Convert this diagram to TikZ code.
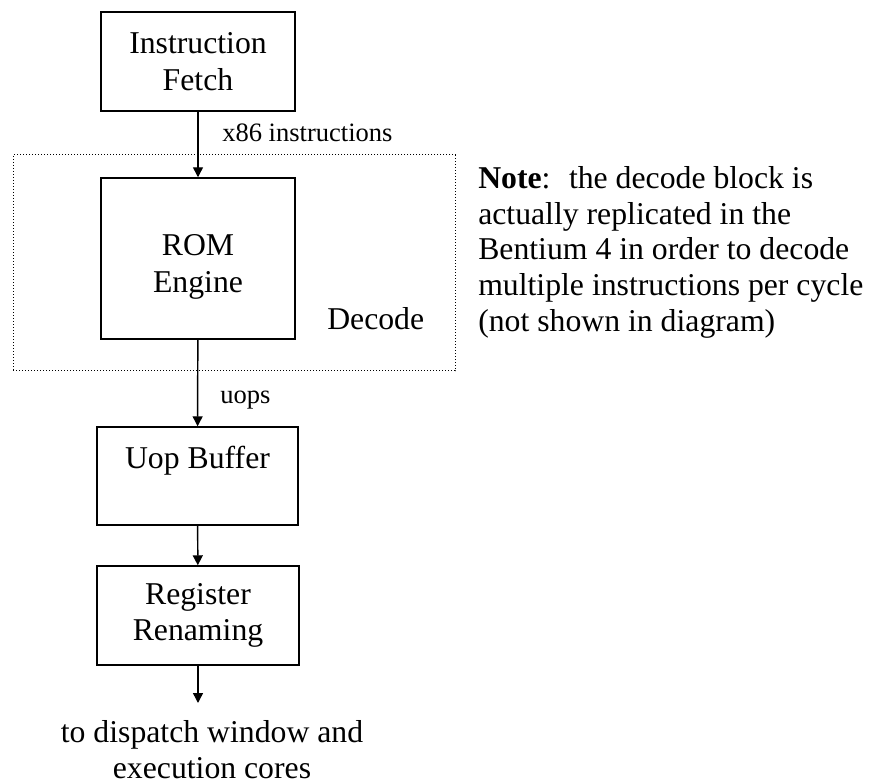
\documentclass[tikz,border=0pt]{standalone}
\usepackage{fontspec}
\setmainfont{Liberation Serif}
\usetikzlibrary{arrows.meta}
\begin{document}
\begin{tikzpicture}[x=0.75pt,y=-0.75pt,
    stage/.style={draw,line width=1.1pt,inner sep=0pt,align=center,
      font=\fontsize{23.8}{27.4}\selectfont},
    group/.style={draw,line width=0.75pt,dash pattern=on 0.75pt off 1.5pt,inner sep=0pt},
    lbl/.style={inner sep=0pt,anchor=base west,font=\fontsize{19.9}{23}\selectfont},
    txt/.style={inner sep=0pt,font=\fontsize{23.8}{26.8}\selectfont},
    flow/.style={line width=1.1pt,-{Triangle[length=7.5pt,width=7.5pt]}}]
  \pgfmathsetmacro{\px}{0.75}
  \useasboundingbox (0,0) rectangle (872,780);
  % decode block
  \node[group,minimum width=442*\px pt,minimum height=216*\px pt] (decode) at (234,263) {};
  \node[txt,anchor=base west] (decodelbl) at (327,330) {Decode};
  % pipeline stages
  \node[stage,minimum width=194*\px pt,minimum height=99*\px pt] (fetch) at (198,61.5) {Instruction\\Fetch};
  \node[stage,minimum width=194*\px pt,minimum height=161*\px pt,text height=55.5pt] (rom) at (198,258.5) {ROM\\Engine};
  \node[stage,minimum width=201*\px pt,minimum height=98*\px pt] (uop) at (197.5,476) {Uop Buffer\\\mbox{}};
  \node[stage,minimum width=202*\px pt,minimum height=99*\px pt] (rename) at (198,615.5) {Register\\Renaming};
  \foreach \A/\B in {fetch/rom, rom/uop, uop/rename} {%
    \draw[flow] (\A) -- (\B);
  }
  \node[lbl] (instlbl) at (222,142) {x86 instructions};
  \node[lbl] (uopslbl) at (220,404) {uops};
  \coordinate (out) at (198,703);
  \draw[flow] (rename.south) -- (out);
  \node[txt,align=center,anchor=north] (dest) at (212,720) {to dispatch window and\\execution cores};
  % \node[txt] at (660,100) {};
  \node[txt,align=left,anchor=north west] (note) at (478,166)
    {\textbf{Note}:~ the decode block is\\actually replicated in the\\Bentium 4 in order to decode\\multiple instructions per cycle\\(not shown in diagram)};
\end{tikzpicture}
\end{document}
